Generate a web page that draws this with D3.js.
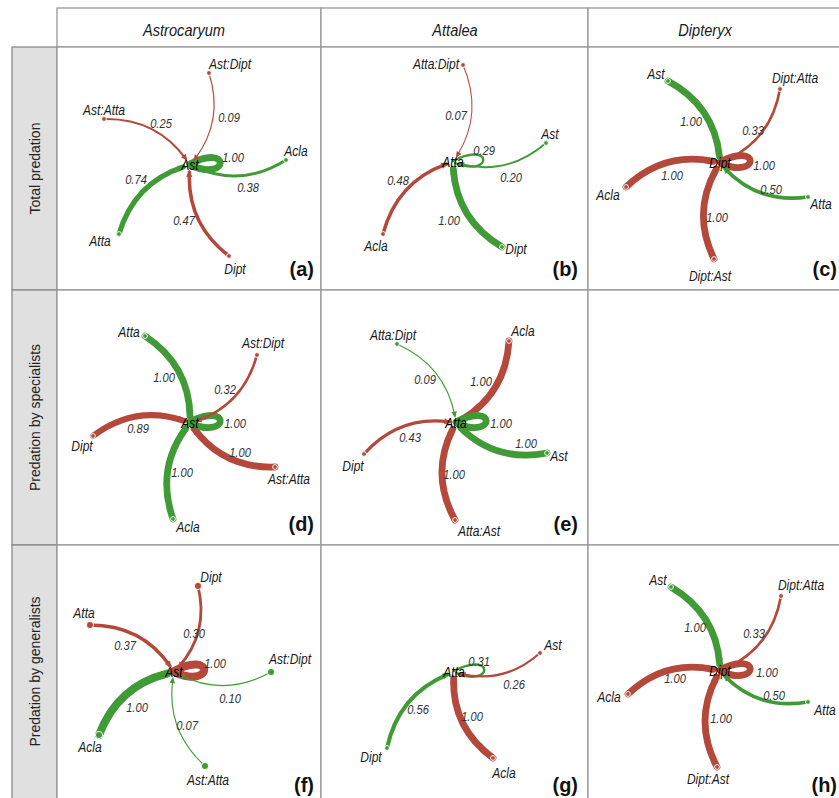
<!DOCTYPE html>
<html><head><meta charset="utf-8">
<script src="https://cdn.jsdelivr.net/npm/d3@7"></script>
<style>
html,body{margin:0;padding:0;background:#fff;}
svg{display:block;}
text{font-family:"Liberation Sans",Arial,Helvetica,sans-serif;}
</style></head><body>
<svg id="chart" width="839" height="798"></svg>
<script>
// ---- table headings ----
const colNames = ["Astrocaryum", "Attalea", "Dipteryx"];
const rowNames = ["Total predation", "Predation by specialists", "Predation by generalists"];

// ---- interaction strengths: [source, target, value, sign] ("+" facilitative, "-" antagonistic) ----
const edgesA = [["Ast:Dipt","Ast",0.09,"-"],["Ast:Atta","Ast",0.25,"-"],["Acla","Ast",0.38,"+"],["Atta","Ast",0.74,"+"],["Dipt","Ast",0.47,"-"],["Ast","Ast",1.00,"+"]];
const edgesB = [["Atta:Dipt","Atta",0.07,"-"],["Ast","Atta",0.20,"+"],["Acla","Atta",0.48,"-"],["Dipt","Atta",1.00,"+"],["Atta","Atta",0.29,"+"]];
const edgesC = [["Ast","Dipt",1.00,"+"],["Dipt:Atta","Dipt",0.33,"-"],["Acla","Dipt",1.00,"-"],["Atta","Dipt",0.50,"+"],["Dipt:Ast","Dipt",1.00,"-"],["Dipt","Dipt",1.00,"-"]];
const edgesD = [["Atta","Ast",1.00,"+"],["Ast:Dipt","Ast",0.32,"-"],["Dipt","Ast",0.89,"-"],["Ast:Atta","Ast",1.00,"-"],["Acla","Ast",1.00,"+"],["Ast","Ast",1.00,"+"]];
const edgesE = [["Atta:Dipt","Atta",0.09,"+"],["Acla","Atta",1.00,"-"],["Dipt","Atta",0.43,"-"],["Ast","Atta",1.00,"+"],["Atta:Ast","Atta",1.00,"-"],["Atta","Atta",1.00,"+"]];
const edgesF = [["Dipt","Ast",0.30,"-"],["Atta","Ast",0.37,"-"],["Ast:Dipt","Ast",0.10,"+"],["Acla","Ast",1.00,"+"],["Ast:Atta","Ast",0.07,"+"],["Ast","Ast",1.00,"-"]];
const edgesG = [["Ast","Atta",0.26,"-"],["Dipt","Atta",0.56,"+"],["Acla","Atta",1.00,"-"],["Atta","Atta",0.31,"+"]];
const edgesH = [["Ast","Dipt",1.00,"+"],["Dipt:Atta","Dipt",0.33,"-"],["Acla","Dipt",1.00,"-"],["Atta","Dipt",0.50,"+"],["Dipt:Ast","Dipt",1.00,"-"],["Dipt","Dipt",1.00,"-"]];

// ---- node layout inside each cell: [name, x, y, labelX, labelY] ----
const nodesA = [["Ast",133,118],["Ast:Dipt",152,26,173,17],["Ast:Atta",47,72,47,63],["Acla",229,113,239,104],["Atta",62,187,43,194],["Dipt",172,209,178,222]];
const nodesB = [["Atta",132,115],["Atta:Dipt",142,18,115,17],["Ast",225,96,229,87],["Acla",62,187,55,199],["Dipt",181,200,195,202]];
const nodesC = [["Dipt",132,116],["Ast",80,34,68,27],["Dipt:Atta",192,42,207,31],["Acla",38,140,20,148],["Atta",220,150,233,157],["Dipt:Ast",126,212,122,229]];
const nodesD = [["Ast",133,133],["Atta",88,46,72,42],["Ast:Dipt",200,65,206,53],["Dipt",36,146,25,156],["Ast:Atta",218,177,232,189],["Acla",116,229,131,237]];
const nodesE = [["Atta",135,133],["Atta:Dipt",76,54,72,45],["Acla",188,51,202,41],["Dipt",43,164,32,176],["Ast",226,163,238,166],["Atta:Ast",134,230,158,241]];
const nodesF = [["Ast",117,127],["Dipt",141,41,154,32],["Atta",33,80,27,68],["Ast:Dipt",214,127,233,114],["Acla",42,190,33,202],["Ast:Atta",148,221,151,235]];
const nodesG = [["Atta",133,127],["Ast",219,108,232,100],["Dipt",66,203,50,212],["Acla",172,213,183,228]];
const nodesH = [["Dipt",132,126],["Ast",83,42,70,35],["Dipt:Atta",193,51,213,40],["Acla",40,149,21,152],["Atta",220,157,237,165],["Dipt:Ast",129,222,120,234]];

// ---- where each edge's value is written (same order as the edge lists) ----
const valsA = [[172,70],[104,76],[191,140],[79,132],[127,173],[176,110]];
const valsB = [[135,68],[190,130],[77,133],[128,173],[163,103]];
const valsC = [[103,74],[165,83],[84,128],[183,142],[129,170],[176,118]];
const valsD = [[107,87],[168,99],[81,138],[183,162],[125,182],[178,133]];
const valsE = [[104,89],[160,91],[89,147],[205,153],[133,184],[180,133]];
const valsF = [[137,88],[68,100],[173,153],[80,162],[130,180],[158,118]];
const valsG = [[193,139],[97,164],[151,171],[158,116]];
const valsH = [[107,82],[166,88],[87,133],[186,150],[133,173],[179,127]];

const panels = [
  {tag:"(a)", row:0, col:0, edges:edgesA, nodes:nodesA, vals:valsA, dot:2.4},
  {tag:"(b)", row:0, col:1, edges:edgesB, nodes:nodesB, vals:valsB, dot:2.4},
  {tag:"(c)", row:0, col:2, edges:edgesC, nodes:nodesC, vals:valsC, dot:2.4},
  {tag:"(d)", row:1, col:0, edges:edgesD, nodes:nodesD, vals:valsD, dot:2.4},
  {tag:"(e)", row:1, col:1, edges:edgesE, nodes:nodesE, vals:valsE, dot:2.4},
  {tag:"(f)", row:2, col:0, edges:edgesF, nodes:nodesF, vals:valsF, dot:3.6},
  {tag:"(g)", row:2, col:1, edges:edgesG, nodes:nodesG, vals:valsG, dot:2.4},
  {tag:"(h)", row:2, col:2, edges:edgesH, nodes:nodesH, vals:valsH, dot:2.4}
];

// ---- table geometry ----
const colX = [57, 321, 588], colW = [264, 267, 265];
const rowY = [47, 290, 545], rowH = [243, 255, 261];
const headTop = 8, sideX = 12;
const GRID = "#979797", SIDE_FILL = "#e0e0e0";
const GREEN = "#409b36", RED = "#b4493b";
const SQ = 0.86;   // condensed lettering

const svg = d3.select("#chart");
const W = 839, H = 798;

// header cells
colNames.forEach((c, i) => {
  svg.append("rect").attr("x", colX[i]).attr("y", headTop).attr("width", colW[i]).attr("height", rowY[0] - headTop)
    .attr("fill", "#fff").attr("stroke", GRID).attr("stroke-width", 1.3);
});
// row heading cells + panel cells
rowNames.forEach((r, j) => {
  svg.append("rect").attr("x", sideX).attr("y", rowY[j]).attr("width", colX[0] - sideX).attr("height", rowH[j])
    .attr("fill", SIDE_FILL).attr("stroke", "#8a8a8a").attr("stroke-width", 1.3);
  colX.forEach((x, i) => {
    svg.append("rect").attr("x", x).attr("y", rowY[j]).attr("width", colW[i]).attr("height", rowH[j])
      .attr("fill", "#fff").attr("stroke", GRID).attr("stroke-width", 1.3);
  });
});

function label(g, x, y, s, o) {
  o = o || {};
  return g.append("text")
    .attr("transform", `translate(${x},${y}) scale(${o.sq || SQ},1)`)
    .attr("text-anchor", o.anchor || "middle")
    .attr("dy", o.dy || "0.35em")
    .attr("font-size", o.size || 14)
    .attr("font-style", o.style || "italic")
    .attr("font-weight", o.weight || "normal")
    .attr("fill", o.fill || "#1a1a1a")
    .text(s);
}

// column titles
const titleX = [184, 455, 705];
colNames.forEach((c, i) => label(svg, titleX[i], 30, c, {size: 17}));
// row titles
rowNames.forEach((r, j) => {
  svg.append("text")
    .attr("transform", `translate(${(sideX + colX[0]) / 2 + 1},${rowY[j] + rowH[j] / 2 + (j === 2 ? -4 : 0)}) rotate(-90)`)
    .attr("text-anchor", "middle").attr("dy", "0.35em")
    .attr("font-size", 14).attr("fill", "#222").text(r);
});

const width = d3.scaleLinear().domain([0, 1]).range([0.6, 6.8]);
const colour = d3.scaleOrdinal().domain(["+", "-"]).range([GREEN, RED]);
const BEND = 0.28, GAP = 7;

function qpt(a, b, c, t) {
  const u = 1 - t;
  return [u*u*a[0] + 2*u*t*b[0] + t*t*c[0], u*u*a[1] + 2*u*t*b[1] + t*t*c[1]];
}

panels.forEach(p => {
  const x0 = colX[p.col], y0 = rowY[p.row], w = colW[p.col], h = rowH[p.row];
  const sx = d3.scaleLinear().domain([0, w]).range([x0, x0 + w]);
  const sy = d3.scaleLinear().domain([0, h]).range([y0, y0 + h]);
  const g = svg.append("g");
  const pos = new Map(p.nodes.map(n => [n[0], n]));
  const centre = p.nodes[0];
  const C = [sx(centre[1]), sy(centre[2])];
  const wScale = p.tag === "(f)" ? width.copy().range([0.6, 8]) : width;

  const order = p.edges.map((e, i) => i).sort((a, b) => p.edges[b][2] - p.edges[a][2]);
  order.forEach(i => {
    const e = p.edges[i];
    const col = colour(e[3]);
    const sw = wScale(e[2]);
    if (e[0] === e[1]) {
      // self-loop on the right of the focal node
      const path = d3.path();
      path.moveTo(C[0], C[1] - 1);
      path.bezierCurveTo(C[0] + 40, C[1] - 22, C[0] + 40, C[1] + 16, C[0] + 2, C[1] + 1);
      g.append("path").attr("d", path.toString()).attr("fill", "none")
        .attr("stroke", col).attr("stroke-width", sw).attr("stroke-linecap", "round");
      return;
    }
    const n = pos.get(e[0]);
    const S = [sx(n[1]), sy(n[2])];
    const dx = C[0] - S[0], dy = C[1] - S[1];
    const M = [(S[0] + C[0]) / 2 + BEND * dy, (S[1] + C[1]) / 2 - BEND * dx];
    let t = 1;
    for (let tt = 1; tt > 0.5; tt -= 0.002) {
      const q = qpt(S, M, C, tt);
      if (Math.hypot(q[0] - C[0], q[1] - C[1]) >= GAP) { t = tt; break; }
    }
    const c1 = [S[0] + (M[0] - S[0]) * t, S[1] + (M[1] - S[1]) * t];
    const end = qpt(S, M, C, t);
    const path = d3.path();
    path.moveTo(S[0], S[1]);
    path.quadraticCurveTo(c1[0], c1[1], end[0], end[1]);
    g.append("path").attr("d", path.toString()).attr("fill", "none")
      .attr("stroke", col).attr("stroke-width", sw).attr("stroke-linecap", "round");
    // arrow head
    const ang = Math.atan2(end[1] - c1[1], end[0] - c1[0]);
    const L = 6 + sw * 0.2, Wd = 2.6 + sw * 0.15;
    const tip = [end[0] + Math.cos(ang) * 2, end[1] + Math.sin(ang) * 2];
    const base = [tip[0] - Math.cos(ang) * L, tip[1] - Math.sin(ang) * L];
    const px = -Math.sin(ang) * Wd, py = Math.cos(ang) * Wd;
    g.append("path")
      .attr("d", `M${tip[0]},${tip[1]}L${base[0] + px},${base[1] + py}L${base[0] - px},${base[1] - py}Z`)
      .attr("fill", col);
  });

  // outer nodes
  p.edges.forEach(e => {
    if (e[0] === e[1]) return;
    const n = pos.get(e[0]);
    g.append("circle").attr("cx", sx(n[1])).attr("cy", sy(n[2])).attr("r", p.dot)
      .attr("fill", colour(e[3])).attr("stroke", "#fff").attr("stroke-width", 0.9);
    label(g, sx(n[3]), sy(n[4]), n[0], {size: 14});
  });

  // values
  p.edges.forEach((e, i) => {
    const v = p.vals[i];
    label(g, sx(v[0]), sy(v[1]), d3.format(".2f")(e[2]), {size: 13, fill: "#333"});
  });

  // focal node
  label(g, C[0], C[1], centre[0], {size: 14, fill: "#000"});

  // panel tag
  label(g, Math.min(x0 + 257, W - 2), y0 + h - 14, p.tag, {size: 21, weight: "bold", style: "normal", anchor: "end", dy: "0", sq: 0.95, fill: "#111"});
});
</script></body></html>
